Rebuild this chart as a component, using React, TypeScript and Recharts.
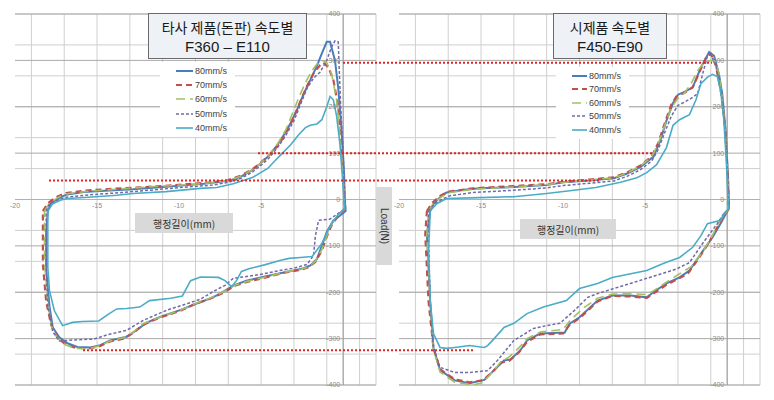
import React from 'react'
import {
  LineChart,
  Line,
  XAxis,
  YAxis,
  CartesianGrid,
  ReferenceDot,
  ReferenceLine,
} from 'recharts'

type Pt = [number, number]

// legend labels, one per series
const speeds = ['80mm/s', '70mm/s', '60mm/s', '50mm/s', '40mm/s']

const xTickValues = [-20, -15, -10, -5]
const yTickValues = [400, 300, 200, 100, 0, -100, -200, -300, -400]

// ---- left panel: 타사 제품 (stroke mm, load N), loop: upper branch -> drop -> lower branch -> back up
const left80: Pt[] = [
  [-18.0, -25], [-17.8, -8], [-17.4, 2], [-16.9, 10], [-15.8, 16], [-14.5, 19], [-12.8, 22], [-11, 27],
  [-9.5, 31], [-8.5, 34], [-7.5, 38], [-6.8, 42], [-6.2, 50], [-5.6, 62], [-5.1, 76], [-4.6, 92],
  [-4.0, 118], [-3.6, 140], [-3.2, 165], [-2.8, 195], [-2.4, 228], [-2.0, 258], [-1.6, 288], [-1.3, 315],
  [-1.0, 340], [-0.8, 340], [-0.5, 300], [-0.3, 240], [-0.1, 150], [0.05, 60], [0.1, 0], [0.15, -25],
  [-0.2, -35], [-0.6, -45], [-1.0, -70], [-1.3, -100], [-1.6, -128], [-2.0, -142], [-2.4, -148], [-3.0, -153],
  [-3.7, -158], [-4.9, -167], [-5.9, -175], [-6.7, -186], [-7.5, -203], [-8.0, -212], [-8.7, -221], [-9.9, -238],
  [-11.2, -254], [-12.0, -266], [-12.6, -282], [-13.2, -296], [-14.2, -304], [-14.8, -314], [-15.4, -319],
  [-16.2, -318], [-16.8, -310], [-17.3, -297], [-17.7, -276], [-17.9, -230], [-18.1, -150], [-18.1, -70], [-18.0, -25],
]
const left70: Pt[] = [
  [-18.3, -25], [-18.0, -8], [-17.5, 5], [-16.9, 14], [-15.5, 20], [-13.5, 24], [-11.5, 28], [-9.5, 33],
  [-8, 37], [-7, 42], [-6.2, 52], [-5.5, 66], [-5, 80], [-4.5, 96], [-4, 115], [-3.5, 142], [-3, 178],
  [-2.6, 212], [-2.2, 245], [-1.8, 272], [-1.4, 290], [-1.2, 295], [-0.9, 285], [-0.6, 258], [-0.3, 200],
  [-0.1, 110], [0.05, 20], [0.1, -20],
  [-0.3, -35], [-0.7, -55], [-1.0, -80], [-1.3, -110], [-1.7, -135], [-2.1, -146], [-2.6, -152], [-3.5, -157],
  [-4.7, -168], [-5.8, -177], [-6.6, -186], [-7.4, -203], [-8.2, -215], [-9.0, -225], [-10.0, -241],
  [-11.2, -255], [-12.2, -270], [-12.8, -288], [-13.4, -300], [-14.2, -306], [-14.8, -316], [-15.5, -321],
  [-16.3, -320], [-16.9, -313], [-17.4, -298], [-17.8, -270], [-18.1, -220], [-18.3, -140], [-18.3, -60], [-18.3, -25],
]
const left60: Pt[] = [
  [-18.2, -25], [-17.9, -8], [-17.4, 4], [-16.9, 12], [-15.5, 18], [-13.5, 23], [-11.5, 28], [-9.5, 32],
  [-8, 36], [-7, 41], [-6.2, 51], [-5.5, 65], [-5, 79], [-4.5, 97], [-4, 120], [-3.5, 150], [-3.1, 185],
  [-2.7, 220], [-2.3, 252], [-1.9, 278], [-1.6, 292], [-1.3, 300], [-1.0, 295], [-0.7, 270], [-0.4, 215],
  [-0.15, 120], [0.05, 20], [0.1, -20],
  [-0.3, -33], [-0.7, -52], [-1.0, -78], [-1.3, -108], [-1.7, -133], [-2.1, -145], [-2.6, -151], [-3.5, -156],
  [-4.7, -167], [-5.8, -176], [-6.6, -185], [-7.4, -201], [-8.2, -214], [-9.0, -224], [-10.0, -240],
  [-11.2, -254], [-12.2, -268], [-12.8, -286], [-13.4, -298], [-14.2, -305], [-14.8, -315], [-15.5, -322],
  [-16.3, -321], [-16.9, -314], [-17.4, -300], [-17.8, -272], [-18.0, -220], [-18.2, -140], [-18.2, -60], [-18.2, -25],
]
const left50: Pt[] = [
  [-18.1, -25], [-17.9, -10], [-17.4, -1], [-16.9, 5], [-15.5, 10], [-13.5, 15], [-11.5, 21], [-9.5, 27],
  [-8, 31], [-7, 37], [-6.2, 46], [-5.5, 60], [-5, 74], [-4.5, 90], [-4, 112], [-3.5, 138], [-3, 170],
  [-2.6, 205], [-2.2, 240], [-1.8, 262], [-1.4, 275], [-1.0, 300], [-0.7, 330], [-0.5, 342], [-0.3, 340],
  [-0.25, 290], [-0.15, 200], [0.0, 100], [0.1, 0], [0.15, -20],
  [-0.3, -30], [-0.8, -42], [-1.5, -45], [-1.7, -80], [-1.8, -120], [-2.2, -140], [-3.0, -148], [-3.7, -152],
  [-4.8, -160], [-5.7, -165], [-6.7, -170], [-7.2, -185], [-8.0, -200], [-8.7, -215], [-9.8, -228],
  [-10.7, -238], [-11.5, -250], [-12.2, -261], [-13.2, -282], [-14.4, -292], [-15.2, -301], [-16.5, -303],
  [-17.3, -305], [-17.7, -285], [-18.0, -230], [-18.1, -150], [-18.1, -70], [-18.1, -25],
]
const left40: Pt[] = [
  [-18.0, -25], [-17.7, -9], [-17.2, -1], [-16.8, 2], [-15.5, 5], [-13.8, 9], [-12.8, 13], [-10.8, 17],
  [-8.7, 24], [-7.7, 26], [-6.7, 34], [-6.0, 42], [-5.5, 48], [-4.6, 67], [-4.2, 82], [-3.7, 100],
  [-3.2, 118], [-2.7, 140], [-2.3, 155], [-2.0, 160], [-1.6, 163], [-1.3, 172], [-1.0, 200], [-0.8, 222],
  [-0.6, 215], [-0.4, 180], [-0.2, 120], [-0.05, 50], [0.05, 0], [0.1, -20],
  [-0.3, -32], [-0.8, -58], [-1.3, -95], [-1.9, -123], [-2.6, -125], [-3.3, -127], [-3.8, -131], [-4.8, -141],
  [-5.7, -149], [-6.2, -155], [-6.5, -175], [-6.8, -188], [-7.2, -175], [-7.6, -168], [-8.7, -167],
  [-9.3, -175], [-9.8, -208], [-10.5, -213], [-11.8, -218], [-12.4, -232], [-13.2, -235], [-13.8, -236],
  [-14.3, -247], [-14.9, -262], [-15.9, -263], [-16.5, -265], [-17.1, -272], [-17.6, -240], [-17.9, -196],
  [-18.0, -146], [-18.0, -73], [-18.0, -25],
]

// ---- right panel: 시제품
const right80: Pt[] = [
  [-18.1, -25], [-17.9, -10], [-17.5, 5], [-17.1, 15], [-16, 21], [-15.1, 24], [-13, 27], [-11, 31],
  [-10, 37], [-8.4, 41], [-6.9, 46], [-6.1, 56], [-5.3, 70], [-4.5, 92], [-4.1, 125], [-3.7, 170],
  [-3.3, 208], [-3.0, 226], [-2.6, 232], [-2.1, 242], [-1.6, 285], [-1.1, 318], [-0.8, 310], [-0.5, 270],
  [-0.3, 228], [-0.1, 150], [0.05, 50], [0.1, 0], [0.1, -20],
  [-0.1, -32], [-0.4, -52], [-0.9, -82], [-1.5, -112], [-2.3, -153], [-2.9, -168], [-3.7, -181], [-4.5, -200],
  [-4.9, -211], [-5.9, -207], [-7.0, -207], [-7.9, -218], [-9.0, -254], [-9.6, -268], [-9.9, -287],
  [-11.4, -289], [-12.2, -304], [-12.6, -325], [-13.2, -345], [-13.6, -347], [-14.2, -368], [-14.8, -389],
  [-15.7, -396], [-16.6, -390], [-17.5, -368], [-17.9, -320], [-18.1, -220], [-18.3, -75], [-18.1, -25],
]
const right70: Pt[] = [
  [-18.3, -25], [-18.0, -8], [-17.5, 8], [-17.0, 17], [-15.5, 24], [-13, 29], [-11, 33], [-10, 38],
  [-8.4, 43], [-6.9, 48], [-6.1, 58], [-5.3, 73], [-4.6, 93], [-4.2, 122], [-3.8, 165], [-3.4, 205],
  [-3.1, 222], [-2.6, 230], [-2.1, 242], [-1.6, 282], [-1.2, 312], [-1.0, 314], [-0.7, 290], [-0.5, 255],
  [-0.3, 215], [-0.1, 140], [0.05, 40], [0.1, -20],
  [-0.2, -35], [-0.6, -60], [-1.1, -92], [-1.7, -125], [-2.4, -160], [-3.1, -173], [-3.8, -186], [-4.5, -203],
  [-4.9, -212], [-5.9, -209], [-7.0, -208], [-7.9, -220], [-9.0, -256], [-9.6, -270], [-10.0, -289],
  [-11.4, -291], [-12.2, -307], [-12.7, -330], [-13.3, -348], [-13.8, -352], [-14.3, -372], [-14.9, -390],
  [-15.7, -394], [-16.6, -388], [-17.5, -366], [-17.9, -320], [-18.2, -220], [-18.4, -75], [-18.3, -25],
]
const right60: Pt[] = [
  [-18.2, -25], [-17.9, -8], [-17.4, 6], [-16.9, 15], [-15.5, 22], [-13, 27], [-11, 32], [-10, 37],
  [-8.4, 42], [-6.9, 47], [-6.1, 57], [-5.3, 72], [-4.6, 92], [-4.2, 120], [-3.8, 160], [-3.4, 198],
  [-3.0, 218], [-2.6, 230], [-2.2, 250], [-1.8, 278], [-1.4, 295], [-1.0, 300], [-0.7, 298], [-0.5, 270],
  [-0.3, 220], [-0.1, 140], [0.05, 40], [0.1, -20],
  [-0.2, -33], [-0.6, -55], [-1.0, -85], [-1.6, -118], [-2.2, -145], [-2.9, -160], [-3.7, -178], [-4.5, -197],
  [-4.9, -205], [-5.9, -203], [-7.0, -204], [-7.9, -213], [-8.8, -235], [-9.6, -262], [-10.0, -280],
  [-11.4, -286], [-12.2, -300], [-12.7, -320], [-13.3, -340], [-13.8, -350], [-14.3, -372], [-14.9, -395],
  [-15.5, -400], [-16.6, -394], [-17.5, -372], [-17.9, -322], [-18.1, -220], [-18.3, -75], [-18.2, -25],
]
const right50: Pt[] = [
  [-18.2, -25], [-17.9, -12], [-17.4, 0], [-16.9, 8], [-15.5, 15], [-13, 20], [-11, 25], [-10, 30],
  [-8.4, 35], [-6.9, 40], [-6.1, 50], [-5.3, 64], [-4.6, 83], [-4.2, 108], [-3.8, 145], [-3.4, 180],
  [-3.0, 203], [-2.6, 210], [-2.2, 218], [-1.8, 228], [-1.5, 270], [-1.2, 310], [-1.0, 312], [-0.7, 290],
  [-0.5, 255], [-0.3, 215], [-0.1, 140], [0.05, 40], [0.1, -20],
  [-0.2, -30], [-0.6, -52], [-1.5, -95], [-2.3, -136], [-3.1, -150], [-3.9, -159], [-4.9, -170], [-5.9, -181],
  [-7.0, -193], [-7.9, -203], [-8.5, -211], [-9.3, -239], [-10.2, -267], [-11.0, -272], [-11.8, -278],
  [-13.0, -304], [-14.0, -347], [-14.6, -369], [-15.7, -373], [-16.6, -373], [-17.5, -362], [-17.9, -320],
  [-18.1, -220], [-18.2, -75], [-18.2, -25],
]
const right40: Pt[] = [
  [-18.1, -25], [-17.7, -9], [-17.1, 2], [-15.1, 4], [-13.0, 6], [-11.0, 13], [-9.6, 19], [-8.0, 26],
  [-6.5, 37], [-5.5, 47], [-4.9, 58], [-4.3, 75], [-3.7, 112], [-3.3, 160], [-2.9, 172], [-2.3, 183],
  [-1.9, 215], [-1.6, 250], [-1.2, 264], [-0.9, 270], [-0.6, 265], [-0.4, 235], [-0.2, 170], [-0.05, 80],
  [0.05, 0], [0.1, -20],
  [-0.2, -30], [-0.4, -45], [-1.2, -52], [-1.6, -78], [-2.1, -103], [-2.9, -125], [-3.9, -138], [-4.9, -153],
  [-7.0, -168], [-7.9, -181], [-9.0, -192], [-9.8, -218], [-11.2, -232], [-12.2, -246], [-13.0, -267],
  [-13.6, -276], [-14.2, -300], [-14.6, -315], [-14.8, -319], [-15.7, -315], [-16.6, -319], [-17.1, -321],
  [-17.5, -319], [-17.9, -289], [-18.1, -218], [-18.2, -110], [-18.1, -30], [-18.1, -25],
]

// red dotted guide lines (load level in N, horizontal pixel extent)
const guideLoads = [295, 100, 41, -325]
const guideFrom = [343, 258, 49, 83]
const guideTo = [712, 652, 600, 474]

const seriesStyle = [
  { color: '#4a7ebb', dash: undefined, width: 2 },
  { color: '#c0504d', dash: '6 4', width: 2.2 },
  { color: '#a5c063', dash: '9 5', width: 1.6 },
  { color: '#6f6aa8', dash: '3 2', width: 1.5 },
  { color: '#4bacc6', dash: undefined, width: 1.6 },
]

const CHART_W = 387
const CHART_H = 400
const TOP = 14
const BOTTOM = 15

const gridX = Array.from({ length: 23 }, (_, i) => -20 + i)
const gridYMinor = Array.from({ length: 25 }, (_, i) => 400 - (i * 100) / 3)

const toRows = (pts: Pt[]) => pts.map(([x, y]) => ({ x, y }))

const tickFont = { fontSize: 7, fill: '#8a8a8a', fontFamily: 'Liberation Sans, Arial, sans-serif' }

function Panel({ series, left, ml, mr }: { series: Pt[][]; left: number; ml: number; mr: number }) {
  return (
    <div style={{ position: 'absolute', left, top: 0 }}>
      <LineChart width={CHART_W} height={CHART_H} margin={{ top: TOP, right: mr, bottom: BOTTOM, left: ml }}>
        <XAxis type="number" dataKey="x" domain={[-20, 2]} hide allowDataOverflow />
        <YAxis type="number" dataKey="y" domain={[-400, 400]} hide allowDataOverflow />
        <CartesianGrid
          stroke="#cfcfcf"
          horizontalValues={gridYMinor}
          verticalValues={gridX}
          fill="#ffffff"
        />
        <CartesianGrid stroke="#a9a9a9" horizontalValues={yTickValues} vertical={false} />
        <ReferenceLine x={0} stroke="#9a9a9a" />
        <ReferenceLine y={0} stroke="#b0b0b0" />
        {xTickValues.map((v) => (
          <ReferenceDot
            key={'x' + v}
            x={v}
            y={0}
            r={0}
            fill="none"
            stroke="none"
            label={{ value: String(v), position: 'bottom', offset: 4, ...tickFont }}
          />
        ))}
        {yTickValues.map((v) => (
          <ReferenceDot
            key={'y' + v}
            x={0}
            y={v}
            r={0}
            fill="none"
            stroke="none"
            label={{ value: String(v), position: 'left', offset: 3, ...tickFont }}
          />
        ))}
        {series.map((pts, i) => (
          <Line
            key={speeds[i]}
            data={toRows(pts)}
            dataKey="y"
            type="linear"
            stroke={seriesStyle[i].color}
            strokeWidth={seriesStyle[i].width}
            strokeDasharray={seriesStyle[i].dash}
            dot={false}
            activeDot={false}
            isAnimationActive={false}
          />
        ))}
      </LineChart>
    </div>
  )
}

function LegendBox({ left, top, rowH, sampleW }: { left: number; top: number; rowH: number; sampleW: number }) {
  return (
    <div style={{ position: 'absolute', left, top, background: '#fff', padding: '2px 8px 2px 16px' }}>
      {speeds.map((s, i) => (
        <div key={s} style={{ height: rowH, display: 'flex', alignItems: 'center' }}>
          <svg width={sampleW} height={6} style={{ marginRight: 2 }}>
            <line
              x1={0}
              y1={3}
              x2={sampleW}
              y2={3}
              stroke={seriesStyle[i].color}
              strokeWidth={seriesStyle[i].width}
              strokeDasharray={seriesStyle[i].dash}
            />
          </svg>
          <span style={{ fontSize: 9, color: '#404040', fontFamily: 'Liberation Sans, Arial, sans-serif' }}>{s}</span>
        </div>
      ))}
    </div>
  )
}

const titleStyle: React.CSSProperties = {
  position: 'absolute',
  top: 13,
  height: 46,
  background: '#eef1f5',
  border: '1px solid #6a6a6a',
  boxSizing: 'border-box',
  display: 'flex',
  flexDirection: 'column',
  justifyContent: 'center',
  alignItems: 'center',
  color: '#1a1a1a',
}

const titleLine1: React.CSSProperties = {
  fontFamily: '"Noto Sans CJK KR", sans-serif',
  fontSize: 14,
  lineHeight: '21px',
}

const titleLine2: React.CSSProperties = {
  fontFamily: 'Liberation Sans, Arial, sans-serif',
  fontSize: 15,
  lineHeight: '17px',
}

const axisTitleStyle: React.CSSProperties = {
  position: 'absolute',
  height: 20,
  background: '#d9d9d9',
  display: 'flex',
  alignItems: 'center',
  justifyContent: 'center',
  fontFamily: '"Noto Sans CJK KR", sans-serif',
  fontSize: 10,
  color: '#333',
}

export default function App() {
  const plotH = CHART_H - TOP - BOTTOM
  const loadToPx = (v: number) => TOP + ((400 - v) / 800) * plotH
  return (
    <div style={{ position: 'absolute', left: 0, top: 0, width: 774, height: 400, background: '#fff', overflow: 'hidden' }}>
      <Panel series={[left80, left70, left60, left50, left40]} left={0} ml={15} mr={11} />
      <Panel series={[right80, right70, right60, right50, right40]} left={387} ml={12} mr={14} />

      <div style={{ ...titleStyle, left: 148, width: 159 }}>
        <div style={titleLine1}>타사 제품(돈판) 속도별</div>
        <div style={titleLine2}>F360 – E110</div>
      </div>
      <div style={{ ...titleStyle, left: 553, width: 114 }}>
        <div style={titleLine1}>시제품 속도별</div>
        <div style={titleLine2}>F450-E90</div>
      </div>

      <LegendBox left={160} top={62} rowH={14.2} sampleW={17} />
      <LegendBox left={556} top={67} rowH={13.5} sampleW={15} />

      <div style={{ ...axisTitleStyle, left: 135, top: 213, width: 98 }}>행정길이(mm)</div>
      <div style={{ ...axisTitleStyle, left: 520, top: 219, width: 96 }}>행정길이(mm)</div>

      <div
        style={{
          position: 'absolute',
          left: 376,
          top: 187,
          width: 16,
          height: 78,
          background: '#d9d9d9',
          display: 'flex',
          alignItems: 'center',
          justifyContent: 'center',
          writingMode: 'vertical-rl',
          fontFamily: 'Liberation Sans, Arial, sans-serif',
          fontSize: 10,
          color: '#333',
        }}
      >
        Load(N)
      </div>

      <svg width={774} height={400} style={{ position: 'absolute', left: 0, top: 0, pointerEvents: 'none' }}>
        {guideLoads.map((v, i) => (
          <line
            key={i}
            x1={guideFrom[i]}
            x2={guideTo[i]}
            y1={loadToPx(v)}
            y2={loadToPx(v)}
            stroke="#e02424"
            strokeWidth={2}
            strokeDasharray="2 2"
          />
        ))}
      </svg>
    </div>
  )
}
